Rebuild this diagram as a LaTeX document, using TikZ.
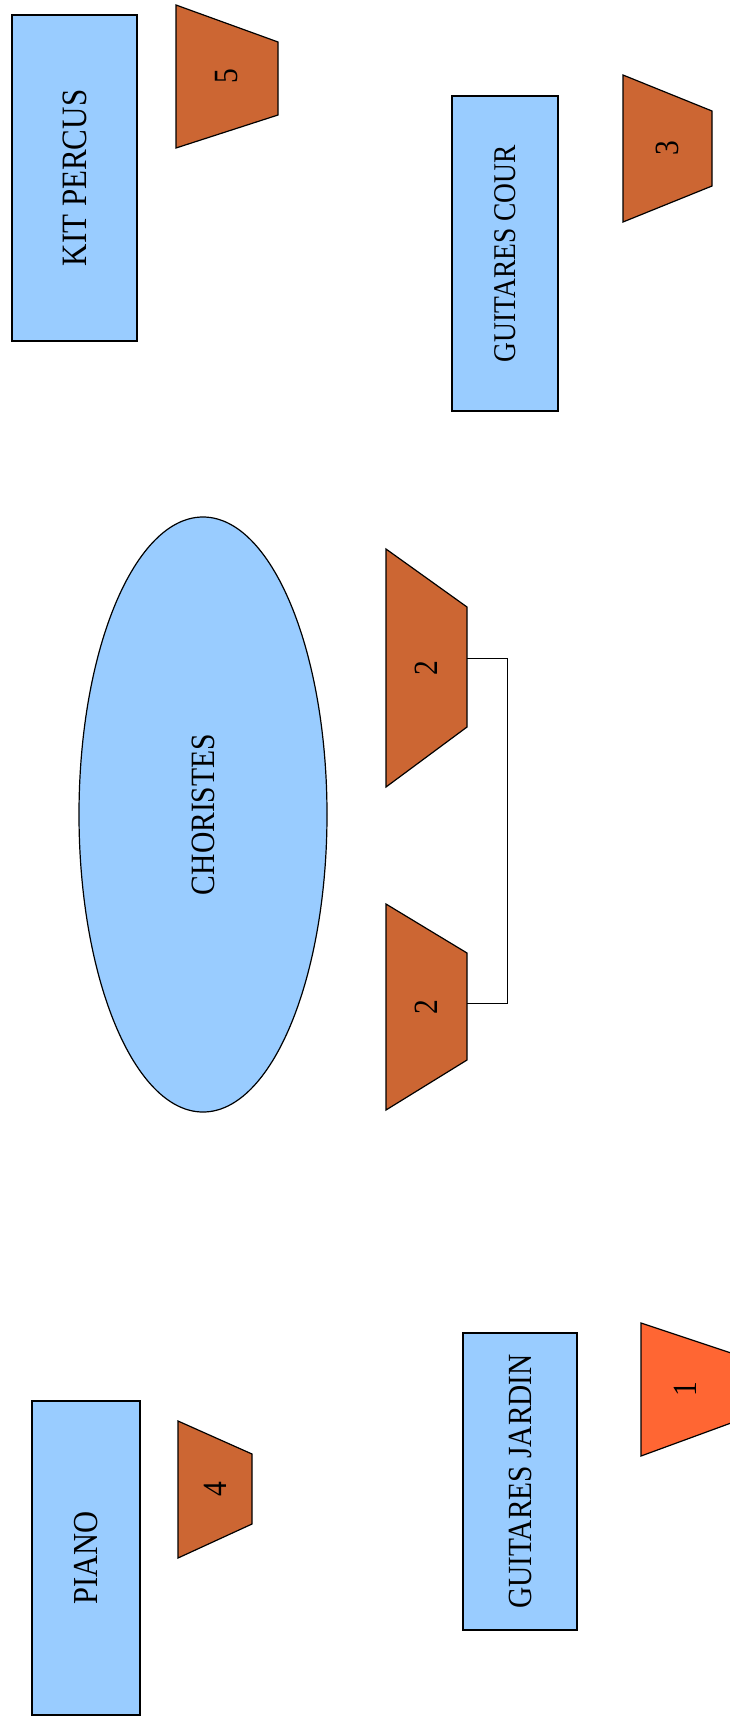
\documentclass[tikz,border=0pt]{standalone}
\usepackage{fontspec}
\setmainfont{Liberation Serif}
\usetikzlibrary{shapes.geometric}
\definecolor{boxblue}{HTML}{99CCFF}
\definecolor{stagebrown}{HTML}{CC6633}
\definecolor{stageorange}{HTML}{FF6633}
\newcommand{\tallt}[1]{\scalebox{1}[1.15]{#1}}
\tikzset{
  boxnode/.style={draw=black, fill=boxblue, line width=1.2pt, inner sep=0pt, rotate=90},
  ovalnode/.style={ellipse, draw=black, fill=boxblue, line width=1.2pt, inner sep=0pt, rotate=90},
  trapshape/.style={draw=black, fill=stagebrown, line width=1.2pt, line join=miter},
  trapone/.style={draw=black, fill=stageorange, line width=1.2pt, line join=miter},
  num/.style={rotate=90, inner sep=0pt, font=\fontsize{29.5}{30}\selectfont},
  wire/.style={draw=black, line width=1pt},
}
\begin{document}
\begin{tikzpicture}[x=1pt, y=-1pt]
\useasboundingbox (0,0) rectangle (729,1724);

% rectangles
\node[boxnode, minimum width=326pt, minimum height=125pt, font=\fontsize{31}{32}\selectfont] (kit) at (74.5,178) {\tallt{KIT PERCUS}};
\node[boxnode, minimum width=315pt, minimum height=106pt, font=\fontsize{27.5}{28}\selectfont] (cour) at (505,253.5) {\tallt{GUITARES COUR}};
\node[boxnode, minimum width=314pt, minimum height=108pt, font=\fontsize{30.5}{31}\selectfont] (piano) at (86,1558) {\tallt{PIANO}};
\node[boxnode, minimum width=297pt, minimum height=114pt, font=\fontsize{29.4}{30}\selectfont] (jardin) at (520,1481.5) {\tallt{GUITARES JARDIN}};
\node[ovalnode, minimum width=595pt, minimum height=248pt, font=\fontsize{29.6}{30}\selectfont] (chor) at (203,814.5) {\tallt{CHORISTES}};

% wedges (stage monitors)
\draw[trapshape] (176,5) -- (278,42) -- (278,115) -- (176,148) -- cycle;
\node[num] (m5) at (227,76.5) {\tallt{5}};
\draw[trapshape] (623,75) -- (712,111) -- (712,186) -- (623,222) -- cycle;
\node[num] (m3) at (667.5,148.5) {\tallt{3}};
\draw[trapshape] (386,549) -- (467,607) -- (467,727) -- (386,787) -- cycle;
\node[num] (m2a) at (426.5,668) {\tallt{2}};
\draw[trapshape] (386,904) -- (467,953) -- (467,1060) -- (386,1110) -- cycle;
\node[num] (m2b) at (426.5,1007) {\tallt{2}};
\draw[trapshape] (178,1421) -- (252,1454) -- (252,1524) -- (178,1558) -- cycle;
\node[num] (m4) at (215,1489.5) {\tallt{4}};
\draw[trapone] (641,1323) -- (731,1353) -- (731,1423) -- (641,1456) -- cycle;
\node[num] (m1) at (685,1389.5) {\tallt{1}};

% link between the two wedges 2
\coordinate (c2a) at (467,658);
\coordinate (c2b) at (467,1003);
\coordinate (bend) at (507,658);
\draw[wire] (c2a) -- (bend) |- (c2b);
\end{tikzpicture}
\end{document}
